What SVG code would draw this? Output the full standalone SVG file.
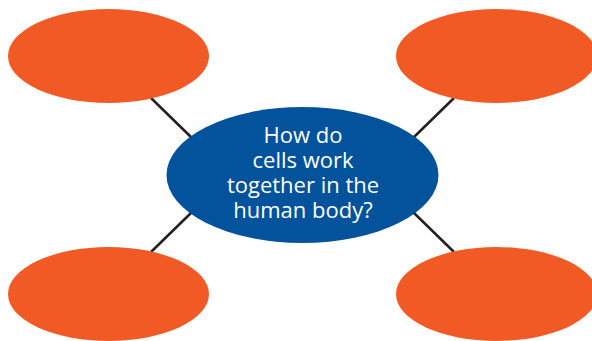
<svg xmlns="http://www.w3.org/2000/svg" width="592" height="341" viewBox="0 0 592 341">
<style>
.leaf{fill:#f15a25}
.hub{fill:#03529c}
.conn{stroke:#231f20;stroke-width:2.5;fill:none}
.lbl{font-family:"Open Sans","Liberation Sans",sans-serif;font-size:22px;fill:#ffffff;text-anchor:middle}
</style>
<rect width="592" height="341" fill="#ffffff"/>
<g id="connectors">
<line class="conn" x1="151" y1="98" x2="192" y2="138"/>
<line class="conn" x1="454" y1="98" x2="413" y2="138"/>
<line class="conn" x1="151" y1="252" x2="192" y2="212"/>
<line class="conn" x1="454" y1="252" x2="413" y2="212"/>
</g>
<g id="node-top-left"><ellipse class="leaf" cx="108.5" cy="56" rx="100.5" ry="47"/></g>
<g id="node-top-right"><ellipse class="leaf" cx="496.5" cy="56" rx="100.5" ry="47"/></g>
<g id="node-bottom-left"><ellipse class="leaf" cx="108.5" cy="294" rx="100.5" ry="47"/></g>
<g id="node-bottom-right"><ellipse class="leaf" cx="496.5" cy="294" rx="100.5" ry="47"/></g>
<g id="node-center">
<ellipse class="hub" cx="302.5" cy="175" rx="136" ry="68"/>
<text class="lbl" x="303" y="143"><tspan x="303" y="143">How do</tspan><tspan x="303" y="168">cells work</tspan><tspan x="303" y="193">together in the</tspan><tspan x="303" y="218">human body?</tspan></text>
</g>
</svg>
